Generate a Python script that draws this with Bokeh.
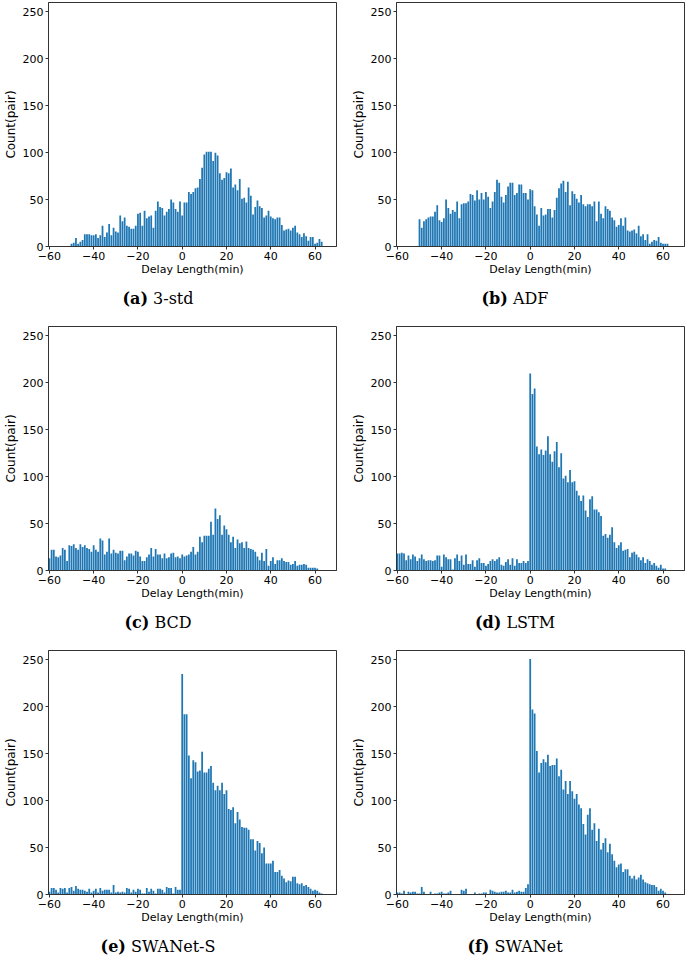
from bokeh.plotting import figure
from bokeh.layouts import column, row
from bokeh.models import Range1d, FixedTicker, Div
from bokeh.embed import file_html
from bokeh.resources import INLINE

# ---------------- data ----------------
x_ticks = [-60, -40, -20, 0, 20, 40, 60]
x_tick_labels = ["−60", "−40", "−20", "0", "20", "40", "60"]
y_ticks = [0, 50, 100, 150, 200, 250]
x_label = "Delay Length(min)"
y_label = "Count(pair)"

panel_letters = ["(a)", "(b)", "(c)", "(d)", "(e)", "(f)"]
panel_names = ["3-std", "ADF", "BCD", "LSTM", "SWANet-S", "SWANet"]

# first delay bin (min) of each series; one count per 1-minute bin
std3_start = -50
std3_counts = [3, 4, 9, 3, 5, 7, 13, 13, 13, 12,
               12, 13, 9, 12, 22, 10, 15, 24, 12, 20,
               16, 15, 33, 27, 31, 22, 21, 19, 19, 22,
               35, 36, 22, 38, 30, 32, 33, 20, 38, 48,
               42, 41, 33, 37, 40, 50, 47, 40, 37, 48,
               33, 47, 47, 58, 56, 58, 62, 63, 72, 84,
               98, 101, 101, 101, 91, 100, 97, 78, 71, 73,
               79, 78, 83, 63, 66, 60, 72, 51, 52, 47,
               63, 54, 34, 42, 49, 43, 41, 31, 33, 38,
               32, 30, 29, 31, 31, 23, 17, 18, 19, 17,
               20, 22, 15, 13, 10, 14, 11, 6, 10, 10,
               3, 4, 8, 5]

adf_start = -50
adf_counts = [29, 20, 27, 29, 31, 32, 32, 37, 44, 28,
              26, 30, 50, 41, 35, 39, 37, 48, 30, 45,
              46, 46, 48, 56, 55, 49, 60, 50, 57, 50,
              58, 53, 41, 48, 58, 71, 68, 53, 47, 55,
              64, 68, 68, 55, 57, 66, 66, 57, 57, 50,
              61, 60, 43, 34, 22, 41, 33, 34, 40, 40,
              31, 39, 52, 62, 67, 70, 58, 69, 44, 59,
              56, 51, 47, 55, 45, 43, 45, 45, 43, 48,
              27, 48, 35, 30, 43, 40, 38, 31, 28, 21,
              23, 30, 22, 31, 17, 16, 17, 18, 14, 22,
              11, 13, 7, 13, 3, 5, 7, 6, 10, 4,
              3, 3, 3]

bcd_start = -60
bcd_counts = [13, 22, 22, 15, 14, 16, 24, 22, 10, 27,
              26, 28, 24, 22, 28, 25, 27, 24, 23, 20,
              27, 22, 20, 34, 32, 17, 20, 34, 18, 22,
              19, 18, 21, 21, 11, 15, 18, 18, 16, 21,
              20, 15, 10, 10, 14, 17, 24, 15, 23, 17,
              17, 13, 18, 13, 14, 18, 19, 14, 15, 13,
              17, 15, 16, 17, 20, 25, 17, 20, 36, 30,
              37, 37, 37, 52, 38, 66, 55, 59, 38, 48,
              44, 38, 30, 36, 24, 33, 29, 30, 24, 31,
              24, 23, 22, 20, 15, 11, 19, 10, 23, 5,
              10, 14, 7, 11, 11, 13, 10, 9, 9, 6,
              7, 10, 5, 6, 6, 7, 6, 3, 3, 3,
              3, 2]

lstm_start = -60
lstm_counts = [18, 18, 19, 18, 11, 16, 12, 17, 15, 10,
               13, 17, 12, 10, 11, 11, 10, 11, 16, 16,
               4, 17, 14, 12, 12, 1, 13, 17, 10, 16,
               6, 17, 7, 7, 11, 4, 11, 13, 8, 8,
               5, 7, 10, 12, 10, 12, 14, 6, 5, 9,
               12, 6, 13, 5, 12, 8, 8, 10, 8, 10,
               210, 188, 194, 132, 124, 129, 123, 128, 143, 124,
               116, 127, 137, 110, 125, 98, 101, 94, 107, 94,
               95, 85, 80, 74, 80, 64, 57, 76, 79, 65,
               65, 62, 58, 37, 39, 35, 38, 46, 30, 24,
               27, 30, 21, 22, 23, 14, 19, 20, 17, 14,
               11, 14, 8, 12, 10, 6, 8, 5, 3, 6,
               2, 2]

swanet_s_start = -60
swanet_s_counts = [3, 7, 7, 5, 2, 7, 6, 7, 2, 7,
                   8, 4, 9, 6, 5, 5, 4, 3, 6, 2,
                   4, 6, 2, 7, 4, 5, 5, 5, 2, 10,
                   2, 3, 2, 3, 2, 7, 6, 2, 5, 3,
                   6, 5, 1, 1, 7, 3, 6, 4, 1, 6,
                   6, 5, 2, 8, 7, 7, 1, 8, 5, 5,
                   235, 192, 192, 148, 124, 143, 141, 131, 132, 152,
                   130, 130, 134, 137, 119, 111, 116, 111, 119, 107,
                   111, 91, 90, 93, 76, 88, 80, 72, 71, 71,
                   69, 59, 59, 47, 57, 55, 44, 50, 33, 33,
                   33, 36, 24, 24, 26, 20, 17, 13, 15, 14,
                   19, 19, 12, 11, 12, 9, 10, 8, 6, 4,
                   5, 4, 2, 1]

swanet_start = -60
swanet_counts = [2, 2, 1, 4, 0, 3, 2, 3, 3, 1,
                 1, 8, 3, 0, 0, 3, 0, 1, 1, 2,
                 3, 1, 1, 2, 4, 0, 0, 0, 0, 5,
                 4, 6, 0, 0, 0, 2, 0, 1, 1, 2,
                 2, 0, 5, 4, 3, 2, 2, 3, 3, 4,
                 2, 2, 5, 2, 3, 4, 3, 3, 7, 11,
                 251, 197, 193, 153, 130, 140, 144, 141, 149, 137,
                 138, 138, 145, 126, 133, 112, 121, 107, 121, 110,
                 102, 107, 96, 92, 75, 64, 85, 92, 69, 76,
                 57, 70, 48, 55, 60, 45, 54, 43, 36, 29,
                 32, 33, 24, 27, 27, 20, 17, 20, 16, 18,
                 21, 16, 13, 12, 11, 10, 10, 8, 4, 6,
                 4, 2, 0]

series_starts = [std3_start, adf_start, bcd_start, lstm_start, swanet_s_start, swanet_start]
series_counts = [std3_counts, adf_counts, bcd_counts, lstm_counts, swanet_s_counts, swanet_counts]

# ---------------- style / layout ----------------
BAR_COLOR = "#1f77b4"
FRAME_COLOR = "#333333"
FW, FH = 288, 244
LEFT_B = 42
RIGHT_B = [12, 2]
BOTTOM_B = 34
CAP_CENTER = [158, 173]   # caption centre, px from the left of each column
CAP_HEIGHTS = [44, 44, 26]


def make_panel(i):
    col = i % 2
    start = series_starts[i]
    counts = series_counts[i]
    xs = list(range(start, start + len(counts)))

    p = figure(frame_width=FW, frame_height=FH, output_backend="svg", toolbar_location=None,
               x_range=Range1d(-60.4, 69.7), y_range=Range1d(0, 260),
               min_border_left=LEFT_B, min_border_right=RIGHT_B[col],
               min_border_top=2, min_border_bottom=BOTTOM_B,
               background_fill_color="white", border_fill_color="white")
    p.vbar(x=xs, top=counts, width=0.8, bottom=0, fill_color=BAR_COLOR, line_color=None)

    p.xgrid.visible = False
    p.ygrid.visible = False
    p.outline_line_color = FRAME_COLOR
    p.outline_line_width = 1

    p.xaxis.ticker = FixedTicker(ticks=x_ticks)
    p.xaxis.major_label_overrides = {t: lab for t, lab in zip(x_ticks, x_tick_labels)}
    p.yaxis.ticker = FixedTicker(ticks=y_ticks)
    p.xaxis.axis_label = x_label
    p.yaxis.axis_label = y_label

    for ax in (p.xaxis, p.yaxis):
        ax.axis_line_color = FRAME_COLOR
        ax.major_tick_line_color = FRAME_COLOR
        ax.minor_tick_line_color = None
        ax.major_tick_out = 3
        ax.major_tick_in = 0
        ax.major_label_text_font = "DejaVu Sans"
        ax.major_label_text_font_size = "11px"
        ax.major_label_text_color = "black"
        ax.major_label_standoff = 2
        ax.axis_label_text_font = "DejaVu Sans"
        ax.axis_label_text_font_style = "normal"
        ax.axis_label_text_color = "black"
        ax.axis_label_standoff = 2
    p.xaxis.axis_label_text_font_size = "11px"
    p.yaxis.axis_label_text_font_size = "12px"
    p.xaxis.axis_label_standoff = 0
    return p


def make_caption(i, r):
    col = i % 2
    fig_w = LEFT_B + FW + RIGHT_B[col]
    h = CAP_HEIGHTS[r]
    inner_w = 2 * CAP_CENTER[col]
    shift = 0
    if inner_w > fig_w:
        shift = inner_w - fig_w
        inner_w = fig_w - shift
    html = (f'<div style="width:{inner_w}px;margin-left:{shift}px;text-align:center;'
            f'font-family:\'DejaVu Serif\';font-size:16px;line-height:38px;color:black;'
            f'white-space:nowrap;">'
            f'<b>{panel_letters[i]}</b>&nbsp;{panel_names[i]}</div>')
    return Div(text=html, width=fig_w, height=h, margin=0)


panels = [make_panel(i) for i in range(6)]
rows = []
for r in range(3):
    rows.append(row(panels[2 * r], panels[2 * r + 1]))
    rows.append(row(make_caption(2 * r, r), make_caption(2 * r + 1, r)))
layout = column(*rows)

open("out.html", "w").write(file_html(layout, INLINE))
